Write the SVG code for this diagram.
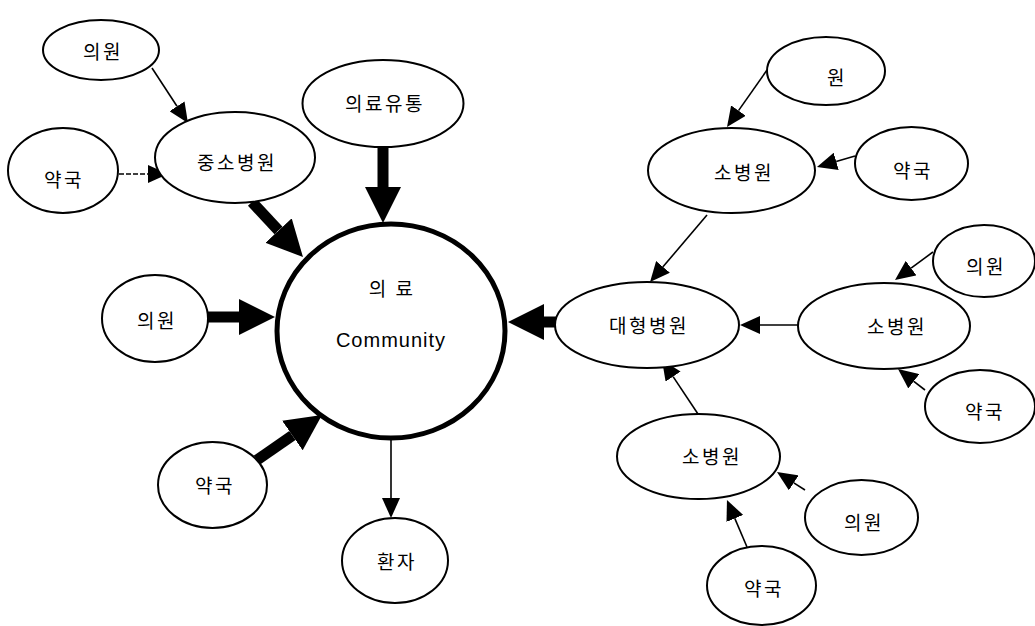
<svg xmlns="http://www.w3.org/2000/svg" width="1035" height="626" viewBox="0 0 1035 626">
  <style>
    .node { fill: #ffffff; stroke: #000000; stroke-width: 2; }
    .hub { fill: #ffffff; stroke: #000000; stroke-width: 5; }
    .lbl { font-family: "Noto Sans CJK KR", "Liberation Sans", sans-serif; font-size: 19px; letter-spacing: 2.5px; text-anchor: middle; fill: #000000; }
    .en { font-family: "Liberation Sans", Arial, sans-serif; font-size: 20px; letter-spacing: 1px; text-anchor: middle; fill: #000000; }
    .thin { stroke: #000000; stroke-width: 1.6; fill: none; marker-end: url(#head-s); }
    .dash { stroke-dasharray: 5 2; }
    .thick { stroke: #000000; stroke-width: 11; fill: none; marker-end: url(#head-l); }
  </style>
  <defs>
    <!-- arrowheads: reference point sits on the base, lines end at the base -->
    <marker id="head-s" markerUnits="userSpaceOnUse" markerWidth="20" markerHeight="18" viewBox="0 0 20 18" refX="0" refY="9" orient="auto">
      <path d="M0,0 L20,9 L0,18 Z" fill="#000000"/>
    </marker>
    <marker id="head-l" markerUnits="userSpaceOnUse" markerWidth="36" markerHeight="36" viewBox="0 0 36 36" refX="0" refY="18" orient="auto">
      <path d="M0,0 L36,18 L0,36 Z" fill="#000000"/>
    </marker>
  </defs>

  <rect width="1035" height="626" fill="#ffffff"/>

  <g id="connectors">
    <!-- feeders into the hub -->
    <line class="thick" x1="252" y1="202" x2="278.5" y2="230.6"/>
    <line class="thick" x1="383" y1="146" x2="383" y2="187"/>
    <line class="thick" x1="207" y1="317" x2="239" y2="317"/>
    <line class="thick" x1="257" y1="460" x2="292.4" y2="435.5"/>
    <line class="thick" x1="556" y1="322" x2="544" y2="322"/>
    <!-- hub to patients -->
    <line class="thin" x1="391" y1="440" x2="391" y2="498"/>
    <!-- left cluster -->
    <line class="thin" x1="152" y1="68" x2="177" y2="106.3"/>
    <line class="thin dash" x1="119" y1="174" x2="148" y2="174"/>
    <!-- right cluster -->
    <line class="thin" x1="767" y1="70" x2="738.5" y2="110.6"/>
    <line class="thin" x1="855" y1="156" x2="836.2" y2="161.4"/>
    <line class="thin" x1="707" y1="215" x2="663" y2="266.8"/>
    <line class="thin" x1="933" y1="252" x2="911.1" y2="268.1"/>
    <line class="thin" x1="798" y1="325" x2="760" y2="325"/>
    <line class="thin" x1="925" y1="390" x2="913.8" y2="381.3"/>
    <line class="thin" x1="698" y1="414" x2="673.1" y2="376.6"/>
    <line class="thin" x1="805" y1="490" x2="793.8" y2="482.8"/>
    <line class="thin" x1="747" y1="547" x2="734.8" y2="518.4"/>
  </g>

  <g id="hub">
    <ellipse class="hub" cx="391" cy="331" rx="114" ry="107"/>
    <text class="lbl" x="392" y="296">의 료</text>
    <text class="en" x="391" y="347">Community</text>
  </g>

  <g id="clinic-tl">
    <ellipse class="node" cx="101" cy="50" rx="58" ry="30"/>
    <text class="lbl" x="103" y="59">의원</text>
  </g>
  <g id="pharmacy-l">
    <ellipse class="node" cx="63" cy="170.5" rx="55" ry="42.5"/>
    <text class="lbl" x="64" y="187">약국</text>
  </g>
  <g id="mid-hospital">
    <ellipse class="node" cx="235" cy="157.5" rx="80" ry="45.5"/>
    <text class="lbl" x="237" y="170">중소병원</text>
  </g>
  <g id="distribution">
    <ellipse class="node" cx="383" cy="103.5" rx="80.5" ry="43.5"/>
    <text class="lbl" x="385" y="111">의료유통</text>
  </g>
  <g id="clinic-ml">
    <ellipse class="node" cx="155" cy="318.5" rx="53" ry="43.5"/>
    <text class="lbl" x="157" y="328">의원</text>
  </g>
  <g id="pharmacy-ll">
    <ellipse class="node" cx="212.5" cy="485" rx="54.5" ry="43"/>
    <text class="lbl" x="215" y="493">약국</text>
  </g>
  <g id="patients">
    <ellipse class="node" cx="395" cy="560.5" rx="53" ry="42.5"/>
    <text class="lbl" x="397" y="569">환자</text>
  </g>

  <g id="large-hospital">
    <ellipse class="node" cx="647" cy="325" rx="92" ry="43"/>
    <text class="lbl" x="649" y="333">대형병원</text>
  </g>
  <g id="small-hospital-top">
    <ellipse class="node" cx="731.5" cy="170.5" rx="83.5" ry="42.5"/>
    <text class="lbl" x="744" y="180">소병원</text>
  </g>
  <g id="clinic-top">
    <ellipse class="node" cx="826" cy="71" rx="59" ry="34"/>
    <text class="lbl" x="837" y="85">원</text>
  </g>
  <g id="pharmacy-top">
    <ellipse class="node" cx="911.5" cy="163.5" rx="56.5" ry="36.5"/>
    <text class="lbl" x="913" y="178">약국</text>
  </g>
  <g id="clinic-r">
    <ellipse class="node" cx="984" cy="261" rx="51" ry="36"/>
    <text class="lbl" x="986" y="274">의원</text>
  </g>
  <g id="small-hospital-r">
    <ellipse class="node" cx="884" cy="326" rx="86" ry="43"/>
    <text class="lbl" x="897" y="334">소병원</text>
  </g>
  <g id="pharmacy-r">
    <ellipse class="node" cx="980" cy="406.5" rx="55" ry="36.5"/>
    <text class="lbl" x="985" y="419">약국</text>
  </g>
  <g id="small-hospital-low">
    <ellipse class="node" cx="698.5" cy="456.5" rx="81.5" ry="42.5"/>
    <text class="lbl" x="712" y="464">소병원</text>
  </g>
  <g id="clinic-lr">
    <ellipse class="node" cx="861.5" cy="517.5" rx="56.5" ry="37.5"/>
    <text class="lbl" x="864" y="530">의원</text>
  </g>
  <g id="pharmacy-b">
    <ellipse class="node" cx="761.5" cy="585.5" rx="54.5" ry="39.5"/>
    <text class="lbl" x="764" y="596">약국</text>
  </g>
</svg>
